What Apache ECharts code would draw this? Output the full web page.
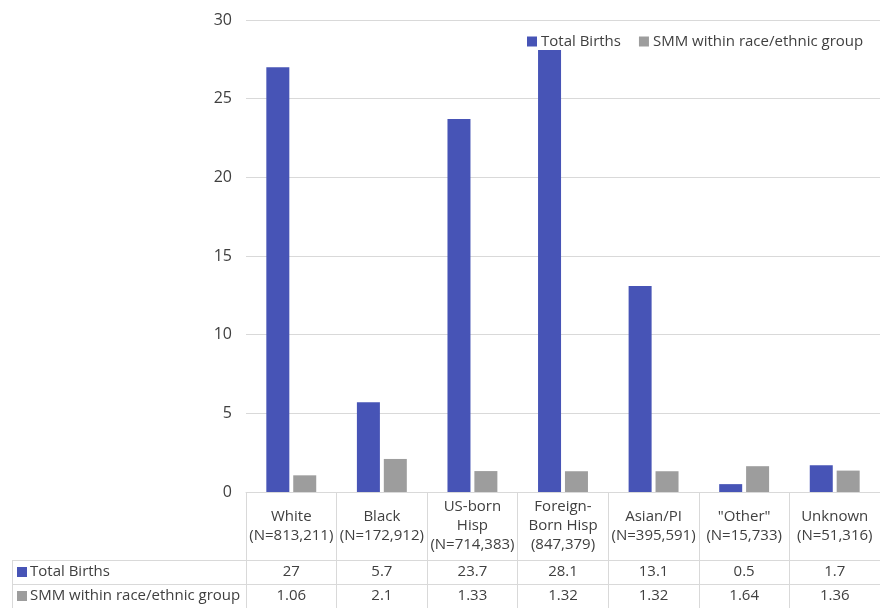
<!DOCTYPE html>
<html>
<head>
<meta charset="utf-8">
<script src="https://cdn.jsdelivr.net/npm/echarts@6/dist/echarts.min.js"></script>
<style>
  html, body { margin: 0; padding: 0; background: #fff; }
  #chart { width: 880px; height: 608px; }
</style>
</head>
<body>
<div id="chart"></div>
<script>
// Race/ethnic groups (with cohort sizes) along the category axis
const categories = [
  'White\n(N=813,211)',
  'Black\n(N=172,912)',
  'US-born\nHisp\n(N=714,383)',
  'Foreign-\nBorn Hisp\n(847,379)',
  'Asian/PI\n(N=395,591)',
  '"Other"\n(N=15,733)',
  'Unknown\n(N=51,316)'
];
const seriesNames = ['Total Births', 'SMM within race/ethnic group'];
const totalBirths = [27, 5.7, 23.7, 28.1, 13.1, 0.5, 1.7];
const smmWithinGroup = [1.06, 2.1, 1.33, 1.32, 1.32, 1.64, 1.36];
const totalBirthsLabels = ['27', '5.7', '23.7', '28.1', '13.1', '0.5', '1.7'];
const smmLabels = ['1.06', '2.1', '1.33', '1.32', '1.32', '1.64', '1.36'];

const FONT = '"Open Sans", "Liberation Sans", sans-serif';
const TEXT = '#404040';
const LINE = '#d9d9d9';
const BLUE = '#4754b6';
const GRAY = '#9d9d9d';
const FS = 15;

const chart = echarts.init(document.getElementById('chart'), null, { renderer: 'canvas' });

const gridTop = 20, gridBottomY = 492, tableLeft = 12, rowA = 560, rowB = 584, rowEnd = 608;

// Extra label-only category axes render the data-table rows
function rowAxis(labels, centerY) {
  return {
    type: 'category',
    gridIndex: 0,
    position: 'bottom',
    data: labels,
    axisLine: { show: false },
    axisTick: { show: false },
    splitLine: { show: false },
    axisLabel: {
      margin: centerY - gridBottomY,
      verticalAlign: 'middle',
      color: TEXT,
      fontSize: FS,
      fontFamily: FONT,
      interval: 0
    }
  };
}

const option = {
  animation: false,
  backgroundColor: '#fff',
  textStyle: { fontFamily: FONT },
  grid: { left: 246, right: 0, top: gridTop, bottom: 608 - gridBottomY, containLabel: false },
  legend: {
    data: seriesNames,
    top: 29,
    left: 522,
    itemWidth: 10,
    itemHeight: 10,
    itemGap: 18,
    icon: 'rect',
    textStyle: { color: TEXT, fontSize: FS, fontFamily: FONT, padding: [0, 0, 0, -1] }
  },
  xAxis: [
    {
      type: 'category',
      data: categories,
      axisLine: { show: true, lineStyle: { color: LINE, width: 1 } },
      axisTick: { show: true, length: rowEnd - gridBottomY, lineStyle: { color: LINE } },
      axisLabel: {
        interval: 0,
        margin: 34,
        verticalAlign: 'middle',
        lineHeight: 19,
        color: TEXT,
        fontSize: FS,
        fontFamily: FONT
      }
    },
    rowAxis(totalBirthsLabels, 572),
    rowAxis(smmLabels, 596)
  ],
  yAxis: {
    type: 'value',
    min: 0,
    max: 30,
    interval: 5,
    axisLine: { show: false },
    axisTick: { show: false },
    splitLine: { lineStyle: { color: LINE, width: 1 } },
    axisLabel: { color: TEXT, fontSize: 16, fontFamily: FONT, margin: 14 }
  },
  series: [
    {
      name: seriesNames[0],
      type: 'bar',
      xAxisIndex: 0,
      data: totalBirths,
      barWidth: 23,
      barGap: '17%',
      itemStyle: { color: BLUE }
    },
    {
      name: seriesNames[1],
      type: 'bar',
      xAxisIndex: 0,
      data: smmWithinGroup,
      barWidth: 23,
      itemStyle: { color: GRAY }
    }
  ],
  graphic: [
    // data table frame
    { type: 'line', shape: { x1: tableLeft, y1: rowA + 0.5, x2: 880, y2: rowA + 0.5 }, style: { stroke: LINE, lineWidth: 1 } },
    { type: 'line', shape: { x1: tableLeft, y1: rowB + 0.5, x2: 880, y2: rowB + 0.5 }, style: { stroke: LINE, lineWidth: 1 } },
    { type: 'line', shape: { x1: tableLeft + 0.5, y1: rowA, x2: tableLeft + 0.5, y2: rowEnd }, style: { stroke: LINE, lineWidth: 1 } },
    // row headers with legend keys
    { type: 'rect', shape: { x: 17, y: rowA + 7, width: 10, height: 10 }, style: { fill: BLUE } },
    { type: 'text', x: 30, y: 572, style: { text: seriesNames[0], fill: TEXT, font: FS + 'px ' + FONT, textVerticalAlign: 'middle' } },
    { type: 'rect', shape: { x: 17, y: rowB + 7, width: 10, height: 10 }, style: { fill: GRAY } },
    { type: 'text', x: 30, y: 596, style: { text: seriesNames[1], fill: TEXT, font: FS + 'px ' + FONT, textVerticalAlign: 'middle' } }
  ]
};

chart.setOption(option);
</script>
</body>
</html>
